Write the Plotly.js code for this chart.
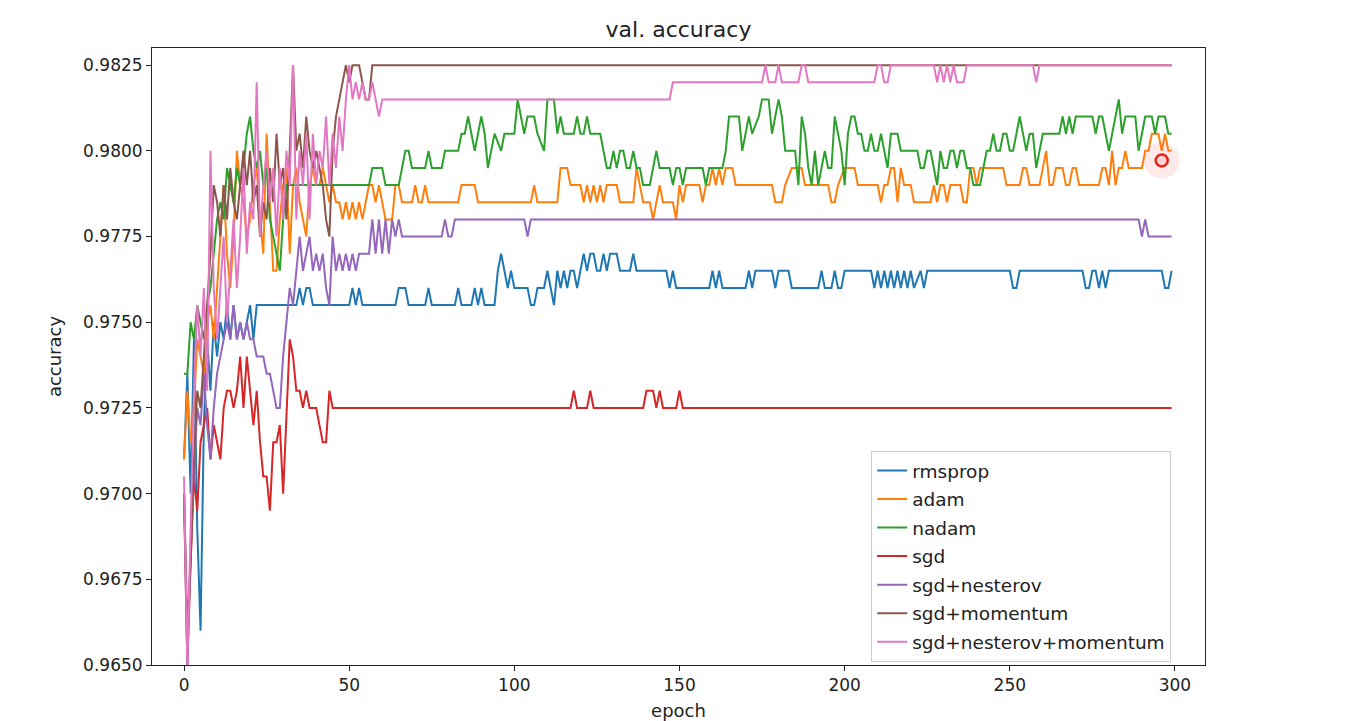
<!DOCTYPE html>
<html>
<head>
<meta charset="utf-8">
<script src="https://cdn.plot.ly/plotly-3.0.1.min.js"></script>
<style>
  body { margin: 0; background: #ffffff; }
  #chart { width: 1350px; height: 721px; }
</style>
</head>
<body>
<div id="chart"></div>
<script>
// [epoch, val. accuracy] points; the line joins them
let rmsprop = [[0,.9710],[1,.9735],[2,.9700],[3,.9745],[4,.9690],[5,.9660],[6,.9720],[7,.9745],[8,.9730],[9,.9750],[10,.9740],[11,.9750],[12,.9745],[13,.9755],[14,.9745],[15,.9755],[16,.9745],[17,.9750],[18,.9745],[19,.9750],[20,.9755],[21,.9745],[22,.9755],[34,.9755],[35,.9760],[36,.9755],[37,.9760],[38,.9760],[39,.9755],[50,.9755],[51,.9760],[52,.9755],[53,.9760],[54,.9755],[64,.9755],[65,.9760],[67,.9760],[68,.9755],[73,.9755],[74,.9760],[75,.9755],[82,.9755],[83,.9760],[84,.9755],[87,.9755],[88,.9760],[89,.9755],[90,.9760],[91,.9755],[94,.9755],[95,.9765],[96,.9770],[97,.9765],[98,.9760],[99,.9765],[100,.9760],[104,.9760],[105,.9755],[106,.9755],[107,.9760],[109,.9760],[110,.9765],[111,.9760],[112,.9755],[113,.9765],[114,.9760],[115,.9765],[116,.9760],[117,.9765],[118,.9765],[119,.9760],[120,.9765],[121,.9770],[122,.9765],[123,.9770],[124,.9770],[125,.9765],[126,.9765],[127,.9770],[128,.9765],[129,.9770],[131,.9770],[132,.9765],[135,.9765],[136,.9770],[137,.9765],[146,.9765],[147,.9760],[148,.9765],[149,.9760],[159,.9760],[160,.9765],[161,.9760],[162,.9765],[163,.9760],[170,.9760],[171,.9765],[172,.9760],[173,.9765],[178,.9765],[179,.9760],[180,.9765],[183,.9765],[184,.9760],[192,.9760],[193,.9765],[194,.9760],[196,.9760],[197,.9765],[198,.9760],[199,.9760],[200,.9765],[208,.9765],[209,.9760],[210,.9765],[211,.9760],[212,.9765],[213,.9760],[214,.9765],[215,.9760],[216,.9765],[217,.9760],[218,.9765],[219,.9760],[220,.9765],[221,.9760],[223,.9765],[224,.9760],[225,.9765],[250,.9765],[251,.9760],[252,.9760],[253,.9765],[272,.9765],[273,.9760],[274,.9760],[275,.9765],[276,.9765],[277,.9760],[278,.9765],[279,.9760],[280,.9765],[296,.9765],[297,.9760],[298,.9760],[299,.9765]];

let adam = [[0,.9710],[1,.9730],[2,.9715],[3,.9725],[4,.9745],[5,.9740],[6,.9735],[7,.9750],[8,.9755],[9,.9745],[10,.9760],[11,.9775],[12,.9790],[13,.9770],[14,.9760],[15,.9775],[16,.9800],[17,.9790],[18,.9785],[19,.9775],[20,.9780],[21,.9790],[22,.9795],[23,.9780],[24,.9770],[25,.9805],[26,.9785],[27,.9765],[28,.9765],[29,.9780],[30,.9790],[31,.9795],[32,.9770],[33,.9790],[34,.9795],[35,.9785],[36,.9780],[37,.9775],[38,.9790],[39,.9795],[40,.9790],[41,.9790],[42,.9795],[43,.9790],[44,.9785],[45,.9790],[46,.9785],[47,.9785],[48,.9780],[49,.9785],[50,.9780],[51,.9785],[52,.9780],[53,.9785],[54,.9780],[55,.9785],[56,.9790],[57,.9790],[58,.9785],[59,.9790],[60,.9785],[61,.9780],[63,.9780],[64,.9790],[65,.9790],[66,.9785],[69,.9785],[70,.9790],[71,.9785],[72,.9785],[73,.9790],[74,.9785],[83,.9785],[84,.9790],[88,.9790],[89,.9785],[105,.9785],[106,.9790],[107,.9785],[113,.9785],[114,.9795],[116,.9795],[117,.9790],[120,.9790],[121,.9785],[122,.9790],[123,.9785],[124,.9790],[125,.9785],[126,.9790],[127,.9785],[128,.9790],[131,.9790],[132,.9785],[136,.9785],[137,.9795],[138,.9790],[139,.9785],[141,.9785],[142,.9780],[143,.9785],[144,.9790],[145,.9785],[148,.9785],[149,.9780],[150,.9790],[151,.9785],[152,.9790],[156,.9790],[157,.9785],[158,.9790],[159,.9790],[160,.9795],[161,.9790],[162,.9795],[163,.9790],[164,.9795],[166,.9795],[167,.9790],[178,.9790],[179,.9785],[181,.9785],[182,.9790],[184,.9795],[187,.9795],[188,.9790],[195,.9790],[196,.9785],[197,.9785],[198,.9790],[200,.9795],[203,.9795],[204,.9790],[210,.9790],[211,.9785],[212,.9790],[213,.9790],[214,.9795],[215,.9795],[216,.9785],[217,.9795],[218,.9790],[220,.9790],[221,.9785],[226,.9785],[227,.9790],[228,.9785],[229,.9790],[230,.9790],[231,.9785],[232,.9790],[235,.9790],[236,.9785],[237,.9785],[238,.9795],[239,.9795],[240,.9790],[241,.9795],[248,.9795],[249,.9790],[253,.9790],[254,.9795],[255,.9795],[256,.9790],[259,.9790],[260,.9795],[261,.9800],[262,.9790],[263,.9790],[264,.9795],[266,.9795],[267,.9790],[268,.9790],[269,.9795],[270,.9795],[271,.9790],[277,.9790],[278,.9795],[279,.9795],[280,.9790],[281,.9800],[282,.9790],[283,.9795],[284,.9795],[285,.9800],[286,.9795],[290,.9795],[291,.9800],[292,.9800],[293,.9805],[295,.9805],[296,.9800],[297,.9805],[298,.9800],[299,.9800]];

let nadam = [[0,.9735],[1,.9735],[2,.9750],[3,.9745],[4,.9755],[5,.9750],[6,.9745],[7,.9755],[8,.9760],[9,.9770],[10,.9780],[11,.9785],[12,.9780],[13,.9795],[14,.9790],[15,.9785],[16,.9795],[17,.9790],[18,.9795],[19,.9805],[20,.9810],[21,.9800],[22,.9795],[23,.9800],[24,.9790],[25,.9795],[26,.9780],[27,.9775],[28,.9770],[29,.9765],[30,.9780],[31,.9790],[56,.9790],[57,.9795],[60,.9795],[61,.9790],[65,.9790],[66,.9795],[67,.9800],[68,.9800],[69,.9795],[73,.9795],[74,.9800],[75,.9795],[78,.9795],[79,.9800],[83,.9800],[84,.9805],[85,.9805],[86,.9810],[87,.9805],[88,.9800],[89,.9805],[90,.9810],[91,.9805],[92,.9795],[93,.9800],[94,.9805],[96,.9800],[97,.9805],[100,.9805],[101,.9815],[102,.9810],[103,.9805],[104,.9810],[106,.9810],[107,.9805],[109,.9800],[110,.9815],[112,.9815],[113,.9805],[114,.9810],[115,.9805],[118,.9805],[119,.9810],[120,.9805],[121,.9805],[122,.9810],[123,.9805],[126,.9805],[127,.9800],[128,.9795],[129,.9795],[130,.9800],[131,.9795],[132,.9800],[133,.9800],[134,.9795],[135,.9795],[136,.9800],[137,.9795],[138,.9795],[139,.9790],[141,.9790],[142,.9795],[143,.9800],[144,.9795],[147,.9795],[148,.9790],[149,.9795],[150,.9795],[151,.9790],[152,.9795],[157,.9795],[158,.9790],[159,.9795],[163,.9795],[164,.9800],[165,.9810],[168,.9810],[169,.9800],[170,.9805],[171,.9810],[172,.9805],[174,.9810],[175,.9815],[177,.9815],[178,.9805],[179,.9810],[180,.9815],[181,.9810],[182,.9800],[185,.9800],[186,.9790],[187,.9810],[188,.9805],[189,.9795],[190,.9790],[191,.9800],[192,.9790],[193,.9795],[194,.9800],[195,.9795],[196,.9795],[197,.9810],[198,.9805],[199,.9800],[200,.9790],[201,.9805],[202,.9810],[203,.9810],[204,.9805],[205,.9805],[206,.9800],[207,.9800],[208,.9805],[209,.9800],[210,.9800],[211,.9805],[212,.9800],[213,.9795],[214,.9805],[216,.9805],[217,.9800],[222,.9800],[223,.9795],[224,.9795],[225,.9800],[226,.9800],[227,.9795],[228,.9790],[229,.9800],[230,.9795],[231,.9795],[232,.9800],[233,.9800],[234,.9795],[235,.9800],[236,.9800],[237,.9795],[238,.9795],[239,.9790],[241,.9790],[242,.9795],[243,.9800],[244,.9800],[245,.9805],[246,.9800],[247,.9800],[248,.9805],[249,.9805],[250,.9800],[251,.9800],[252,.9805],[253,.9810],[254,.9805],[255,.9800],[256,.9805],[257,.9805],[258,.9795],[259,.9800],[260,.9805],[265,.9805],[266,.9810],[267,.9805],[268,.9810],[269,.9805],[270,.9810],[275,.9810],[276,.9805],[277,.9810],[278,.9810],[279,.9805],[280,.9800],[281,.9805],[282,.9810],[283,.9815],[284,.9805],[285,.9810],[288,.9810],[289,.9800],[290,.9805],[291,.9810],[293,.9810],[294,.9805],[295,.9810],[297,.9810],[298,.9805],[299,.9805]];

let sgd = [[0,.9700],[1,.9650],[2,.9680],[3,.9705],[4,.9695],[5,.9715],[6,.9720],[7,.9725],[8,.9710],[9,.9720],[10,.9715],[11,.9710],[12,.9725],[13,.9730],[14,.9730],[15,.9725],[16,.9730],[17,.9740],[18,.9725],[19,.9740],[20,.9730],[21,.9720],[22,.9730],[23,.9715],[24,.9705],[25,.9705],[26,.9695],[27,.9715],[28,.9715],[29,.9720],[30,.9700],[31,.9725],[32,.9745],[33,.9740],[34,.9730],[35,.9730],[36,.9725],[37,.9730],[38,.9725],[40,.9725],[41,.9720],[42,.9715],[43,.9715],[44,.9730],[45,.9725],[117,.9725],[118,.9730],[119,.9725],[122,.9725],[123,.9730],[124,.9725],[139,.9725],[140,.9730],[142,.9730],[143,.9725],[144,.9730],[145,.9725],[149,.9725],[150,.9730],[151,.9725],[299,.9725]];

let sgdNesterov = [[0,.9700],[1,.9650],[2,.9685],[3,.9705],[4,.9725],[5,.9720],[6,.9735],[7,.9720],[8,.9710],[9,.9725],[10,.9735],[11,.9740],[12,.9745],[13,.9750],[14,.9745],[15,.9755],[16,.9745],[17,.9750],[18,.9745],[19,.9750],[20,.9745],[21,.9745],[22,.9740],[24,.9740],[25,.9735],[26,.9735],[27,.9730],[28,.9725],[29,.9725],[30,.9740],[31,.9750],[32,.9760],[33,.9755],[34,.9765],[35,.9775],[36,.9765],[37,.9770],[38,.9775],[39,.9765],[40,.9770],[41,.9765],[42,.9770],[43,.9760],[44,.9755],[45,.9775],[46,.9765],[47,.9770],[48,.9765],[49,.9770],[50,.9765],[51,.9770],[52,.9765],[53,.9770],[56,.9770],[57,.9780],[58,.9770],[59,.9780],[60,.9770],[61,.9780],[62,.9770],[63,.9780],[64,.9775],[65,.9780],[66,.9775],[78,.9775],[79,.9780],[80,.9775],[81,.9775],[82,.9780],[103,.9780],[104,.9775],[105,.9780],[289,.9780],[290,.9775],[291,.9780],[292,.9775],[299,.9775]];

let sgdMomentum = [[0,.9700],[1,.9660],[2,.9680],[3,.9710],[4,.9730],[5,.9725],[6,.9740],[7,.9755],[8,.9770],[9,.9790],[10,.9785],[11,.9775],[12,.9790],[13,.9780],[14,.9795],[15,.9785],[16,.9780],[17,.9790],[18,.9800],[19,.9790],[20,.9800],[21,.9785],[22,.9790],[23,.9775],[24,.9785],[25,.9780],[26,.9795],[27,.9785],[28,.9805],[29,.9790],[30,.9795],[31,.9780],[32,.9800],[33,.9825],[34,.9800],[35,.9805],[36,.9795],[37,.9810],[38,.9800],[39,.9795],[40,.9800],[41,.9795],[42,.9790],[43,.9780],[44,.9775],[45,.9800],[46,.9810],[47,.9815],[48,.9820],[49,.9825],[50,.9820],[51,.9825],[53,.9825],[54,.9820],[55,.9815],[56,.9815],[57,.9825],[299,.9825]];

let sgdNesterovMomentum = [[0,.9705],[1,.9650],[2,.9690],[3,.9730],[4,.9755],[5,.9740],[6,.9760],[7,.9730],[8,.9800],[9,.9760],[10,.9745],[11,.9760],[12,.9775],[13,.9750],[14,.9765],[15,.9780],[16,.9760],[17,.9775],[18,.9795],[19,.9770],[20,.9785],[21,.9780],[22,.9820],[23,.9775],[24,.9790],[25,.9800],[26,.9785],[27,.9795],[28,.9775],[29,.9795],[30,.9780],[31,.9800],[32,.9790],[33,.9825],[34,.9780],[35,.9800],[36,.9790],[37,.9805],[38,.9780],[39,.9805],[40,.9790],[41,.9800],[42,.9795],[43,.9810],[44,.9790],[45,.9805],[46,.9795],[47,.9810],[48,.9800],[49,.9815],[50,.9825],[51,.9815],[52,.9820],[53,.9815],[54,.9820],[55,.9815],[56,.9815],[57,.9820],[58,.9815],[59,.9810],[60,.9815],[147,.9815],[148,.9820],[175,.9820],[176,.9825],[177,.9820],[179,.9820],[180,.9825],[181,.9820],[186,.9820],[187,.9825],[188,.9825],[189,.9820],[209,.9820],[210,.9825],[211,.9825],[212,.9820],[213,.9820],[214,.9825],[227,.9825],[228,.9820],[229,.9825],[230,.9820],[231,.9825],[232,.9820],[233,.9825],[234,.9820],[236,.9820],[237,.9825],[257,.9825],[258,.9820],[259,.9825],[299,.9825]];

let seriesNames = ["rmsprop", "adam", "nadam", "sgd", "sgd+nesterov", "sgd+momentum", "sgd+nesterov+momentum"];
let seriesData = [rmsprop, adam, nadam, sgd, sgdNesterov, sgdMomentum, sgdNesterovMomentum];
let seriesColors = ["#1f77b4", "#ff7f0e", "#2ca02c", "#d62728", "#9467bd", "#8c564b", "#e377c2"];

let yTicks = [0.9650, 0.9675, 0.9700, 0.9725, 0.9750, 0.9775, 0.9800, 0.9825];
let xTicks = [0, 50, 100, 150, 200, 250, 300];

const font_family = "DejaVu Sans, sans-serif";

function makeTraces() {
	let traces = [];
	for (let i = 0; i < seriesData.length; i++) {
		traces.push({
			x: seriesData[i].map(p => p[0]),
			y: seriesData[i].map(p => p[1]),
			name: seriesNames[i],
			legendgroup: "g" + i,
			mode: "lines",
			line: {color: seriesColors[i], width: 2},
			hoverinfo: "skip"
		});
	}
	return traces;
}

function plotChart() {
	let axisStyle = {
		showline: true,
		mirror: true,
		linecolor: "#222222",
		linewidth: 1,
		showgrid: false,
		zeroline: false,
		ticks: "outside",
		ticklen: 5,
		tickcolor: "#222222",
		tickfont: {family: font_family, size: 17, color: "#222222"}
	};

	let layout = {
		width: 1350,
		height: 721,
		margin: {l: 152, r: 145, t: 48, b: 56},
		paper_bgcolor: "#ffffff",
		plot_bgcolor: "#ffffff",
		font: {family: font_family, color: "#222222"},
		title: {
			text: "val. accuracy",
			font: {family: font_family, size: 22, color: "#222222"},
			x: 0.5, xref: "paper", xanchor: "center",
			y: 0.96, yref: "container", yanchor: "middle"
		},
		xaxis: Object.assign({}, axisStyle, {
			range: [-9.7, 309.1],
			tickvals: xTicks,
			ticktext: xTicks.map(String),
			title: {text: "epoch", font: {family: font_family, size: 18, color: "#222222"}, standoff: 9}
		}),
		yaxis: Object.assign({}, axisStyle, {
			range: [0.965, 0.983],
			tickvals: yTicks,
			ticktext: yTicks.map(v => v.toFixed(4)),
			title: {text: "accuracy", font: {family: font_family, size: 18, color: "#222222"}, standoff: 16}
		}),
		legend: {
			x: 0.683, y: 0.347, xanchor: "left", yanchor: "top",
			bgcolor: "#ffffff",
			bordercolor: "#cccccc",
			borderwidth: 1,
			traceorder: "grouped",
			tracegroupgap: 1.5,
			font: {family: font_family, size: 18.5, color: "#222222"}
		},
		shapes: [
			// red cursor mark from the screen recording
			{type: "circle", xref: "x", yref: "y", xsizemode: "pixel", ysizemode: "pixel",
			 xanchor: 296, yanchor: 0.97972, x0: -18, x1: 18, y0: -18, y1: 18,
			 fillcolor: "rgba(255,90,90,0.13)", line: {width: 0}},
			{type: "circle", xref: "x", yref: "y", xsizemode: "pixel", ysizemode: "pixel",
			 xanchor: 296, yanchor: 0.97972, x0: -6, x1: 6, y0: -6, y1: 6,
			 fillcolor: "rgba(255,210,210,0.8)", line: {color: "#e8201c", width: 2.5}}
		],
		showlegend: true
	};

	Plotly.newPlot("chart", makeTraces(), layout, {displayModeBar: false, staticPlot: true});
}

plotChart();
</script>
</body>
</html>
